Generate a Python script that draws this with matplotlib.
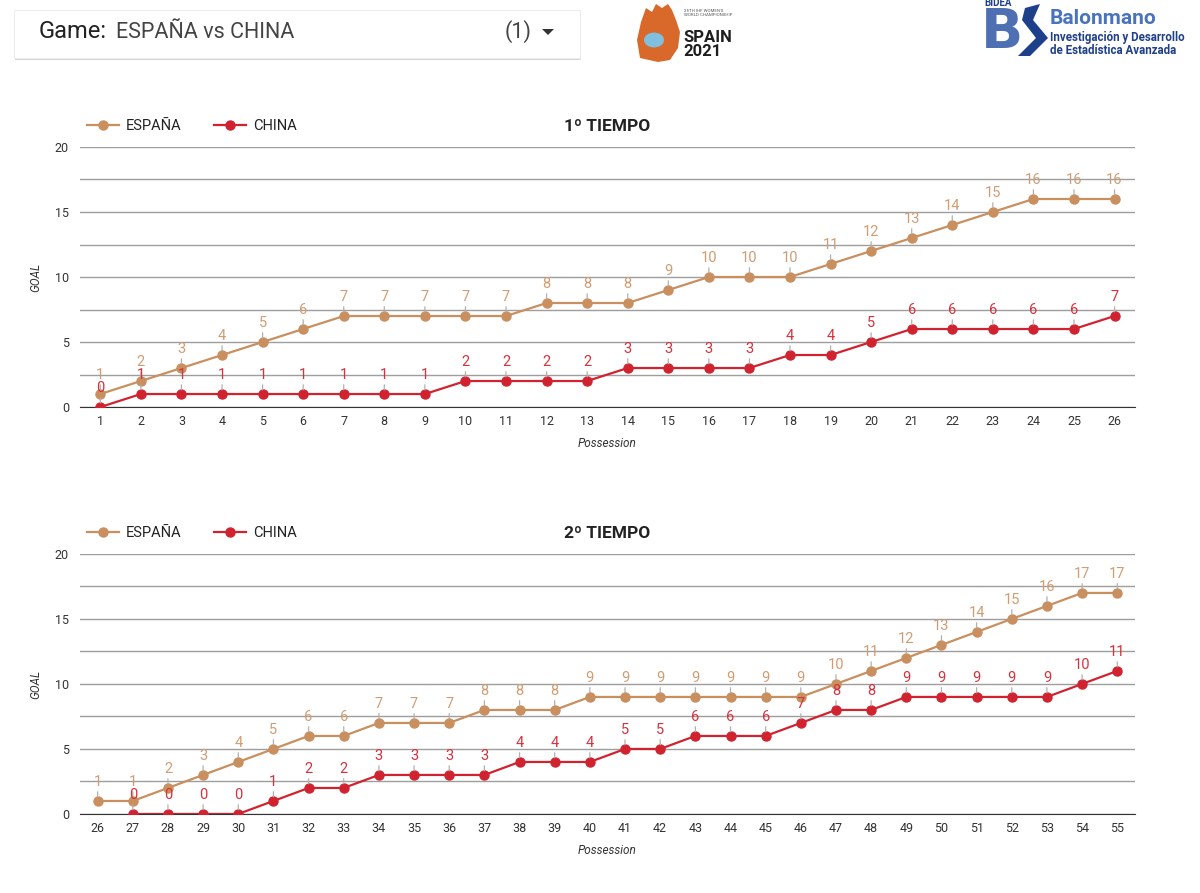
import numpy as np
import matplotlib.pyplot as plt
from matplotlib.patches import Rectangle, Polygon, Circle

plt.rcParams['font.family'] = ['Roboto', 'DejaVu Sans']

# ---- data -------------------------------------------------------------
pos_1 = list(range(1, 27))
esp_1 = [1, 2, 3, 4, 5, 6, 7, 7, 7, 7, 7, 8, 8, 8, 9, 10, 10, 10, 11, 12, 13, 14, 15, 16, 16, 16]
chn_1 = [0, 1, 1, 1, 1, 1, 1, 1, 1, 2, 2, 2, 2, 3, 3, 3, 3, 4, 4, 5, 6, 6, 6, 6, 6, 7]

pos_2 = list(range(26, 56))
esp_2 = [1, 1, 2, 3, 4, 5, 6, 6, 7, 7, 7, 8, 8, 8, 9, 9, 9, 9, 9, 9, 9, 10, 11, 12, 13, 14, 15, 16, 17, 17]
pos_2_chn = list(range(27, 56))
chn_2 = [0, 0, 0, 0, 1, 2, 2, 3, 3, 3, 3, 4, 4, 4, 5, 5, 6, 6, 6, 7, 8, 8, 9, 9, 9, 9, 9, 10, 11]

teams = ['ESPAÑA', 'CHINA']
titles = ['1º TIEMPO', '2º TIEMPO']

ESP_COL = '#c98f5e'
CHN_COL = '#d1232f'
ESP_LBL = '#cf9d74'
CHN_LBL = '#d6313d'


def draw_series(ax, xs, ys, col, lblcol, name):
    ax.plot(xs, ys, color=col, lw=1.6, marker='o', ms=6.5, label=name, zorder=3)
    for x, y in zip(xs, ys):
        ax.annotate(str(y), (x, y), xytext=(0, 12), textcoords='offset pixels',
                    ha='center', va='bottom', fontsize=10.5,
                    color=lblcol, zorder=4,
                    arrowprops=dict(arrowstyle='-', color='#b0b0b0', lw=0.9,
                                    shrinkA=0, shrinkB=3))


def style_axes(ax, xs, title):
    ax.set_ylim(0, 20)
    ax.set_xlim(xs[0] - 0.5, xs[-1] + 0.5)
    ax.set_yticks([0, 5, 10, 15, 20])
    ax.set_yticks([2.5, 7.5, 12.5, 17.5], minor=True)
    ax.set_xticks(xs)
    ax.grid(axis='y', which='both', color='#9e9e9e', lw=1)
    ax.set_axisbelow(True)
    for s in ['top', 'right', 'left']:
        ax.spines[s].set_visible(False)
    ax.spines['bottom'].set_color('#333333')
    ax.tick_params(axis='both', which='both', length=0, labelsize=9, colors='#333333', pad=6)
    ax.tick_params(axis='y', pad=8)
    ax.set_xlabel('Possession', fontsize=8.5, style='italic', color='#333333', labelpad=6)
    ax.set_ylabel('GOAL', fontsize=8.5, style='italic', color='#333333', labelpad=9)
    ax.text(0.5, 1.078, title, transform=ax.transAxes, ha='center', va='center',
            fontsize=12.5, fontweight='bold', color='#222222')
    ax.legend(loc='center left', bbox_to_anchor=(-0.006, 1.08), ncol=2, frameon=False,
              fontsize=10.5, handlelength=2.2, columnspacing=2.2, handletextpad=0.5,
              labelcolor='#222222')


fig = plt.figure(figsize=(12, 8.93), dpi=100)

ax1 = fig.add_axes([0.0667, 0.5442, 0.879, 0.2912])
draw_series(ax1, pos_1, esp_1, ESP_COL, ESP_LBL, teams[0])
draw_series(ax1, pos_1, chn_1, CHN_COL, CHN_LBL, teams[1])
style_axes(ax1, pos_1, titles[0])

ax2 = fig.add_axes([0.0667, 0.0885, 0.879, 0.2912])
draw_series(ax2, pos_2, esp_2, ESP_COL, ESP_LBL, teams[0])
draw_series(ax2, pos_2_chn, chn_2, CHN_COL, CHN_LBL, teams[1])
style_axes(ax2, pos_2, titles[1])

# ---- header: dropdown box ----------------------------------------------
W, H = 1200, 893


def fx(px):
    return px / W


def fy(py):
    return 1 - py / H


fig.patches.append(Rectangle((fx(15), fy(60)), fx(566), 49 / H, transform=fig.transFigure,
                             facecolor='#d6d6d6', edgecolor='none', zorder=0))
fig.patches.append(Rectangle((fx(14), fy(58)), fx(566), 48 / H, transform=fig.transFigure,
                             facecolor='white', edgecolor='#ededed', lw=0.8, zorder=1))
fig.text(fx(39), fy(32), 'Game:', fontsize=17, color='#222222', va='center')
fig.text(fx(116), fy(32), 'ESPAÑA vs CHINA', fontsize=15.5, color='#444444', va='center')
fig.text(fx(505), fy(32), '(1)', fontsize=15.5, color='#444444', va='center')
fig.patches.append(Polygon([(fx(542), fy(29)), (fx(554), fy(29)), (fx(548), fy(35))],
                           closed=True, transform=fig.transFigure, facecolor='#333333',
                           edgecolor='none'))

# ---- logo: SPAIN 2021 ---------------------------------------------------
hand = [(640, 58), (637, 40), (641, 22), (646, 8), (652, 12), (656, 4), (662, 8), (668, 4),
        (672, 10), (676, 20), (680, 32), (678, 48), (670, 60), (658, 62)]
fig.patches.append(Polygon([(fx(a), fy(b)) for a, b in hand], closed=True,
                           transform=fig.transFigure, facecolor='#d9692a', edgecolor='none'))
fig.patches.append(Circle((fx(654), fy(40)), 10 / W, transform=fig.transFigure,
                          facecolor='#7fbfe0', edgecolor='none'))
fig.text(fx(684), fy(13), "25TH IHF WOMEN'S\nWORLD CHAMPIONSHIP", fontsize=3.2,
         color='#555555', va='center', linespacing=1.1)
fig.text(fx(683), fy(38), 'SPAIN', fontsize=12, fontweight='bold', color='#1e1e1e', va='center')
fig.text(fx(683), fy(52), '2021', fontsize=12, fontweight='bold', color='#1e1e1e', va='center')

# ---- logo: BIDEA Balonmano ----------------------------------------------
fig.text(fx(984), fy(3), 'BIDEA', fontsize=7, fontweight='bold', color='#1e3f8a', va='center')
fig.text(fx(981), fy(33), 'B', fontsize=40, fontweight='bold', color='#4f6fb3',
         va='center', family=['DejaVu Sans'])
fig.patches.append(Polygon([(fx(1025), fy(8)), (fx(1040), fy(4)), (fx(1033), fy(20)),
                            (fx(1048), fy(38)), (fx(1030), fy(56)), (fx(1018), fy(56)),
                            (fx(1036), fy(38)), (fx(1022), fy(20))],
                           closed=True, transform=fig.transFigure, facecolor='#1e3f8a',
                           edgecolor='none'))
fig.text(fx(1050), fy(19), 'Balonmano', fontsize=15, fontweight='bold', color='#4a73bd', va='center')
fig.text(fx(1050), fy(38), 'Investigación y Desarrollo', fontsize=8.3, fontweight='bold',
         color='#1e3f8a', va='center')
fig.text(fx(1050), fy(51), 'de Estadística Avanzada', fontsize=8.3, fontweight='bold',
         color='#1e3f8a', va='center')

fig.savefig('out.png', dpi=100)
